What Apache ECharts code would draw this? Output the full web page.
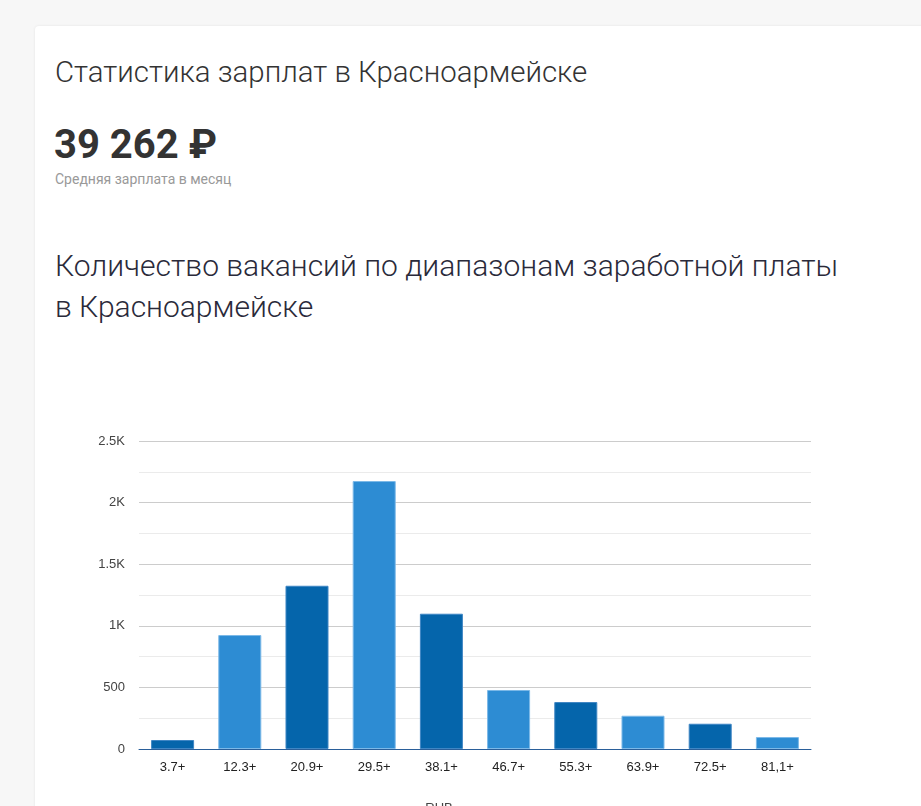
<!DOCTYPE html>
<html>
<head>
<meta charset="utf-8">
<script src="https://cdn.jsdelivr.net/npm/echarts@6/dist/echarts.min.js"></script>
<style>
  html, body { margin: 0; padding: 0; background: #f7f7f7; overflow: hidden; }
  body { width: 921px; height: 806px; position: relative; font-family: Roboto, "Open Sans", sans-serif; }
  .card { position: absolute; left: 35px; top: 26px; width: 900px; height: 800px; background: #fff;
          border-radius: 4px; box-shadow: 0 0 3px rgba(0,0,0,0.08); }
  .h1 { position: absolute; left: 55px; top: 55px; font-size: 29.4px; font-weight: 300; color: #333; white-space: nowrap; }
  .sum { position: absolute; left: 54px; top: 121px; font-size: 40px; font-weight: 700; color: #333; white-space: nowrap; }
  .sub { position: absolute; left: 55px; top: 171px; font-size: 14px; color: #999; white-space: nowrap; }
  .h2 { position: absolute; left: 55px; top: 245px; font-size: 30px; font-weight: 300; color: #2a2a3a; line-height: 41px; }
  #chart { position: absolute; left: 35px; top: 340px; width: 886px; height: 466px; }
</style>
</head>
<body>
<div class="card"></div>
<div class="h1">Статистика зарплат в Красноармейске</div>
<div class="sum">39 262 ₽</div>
<div class="sub">Средняя зарплата в месяц</div>
<div class="h2">Количество вакансий по диапазонам заработной платы<br>в Красноармейске</div>
<div id="chart"></div>
<script>
    // диапазоны зарплат, тыс. руб.
    var categories = ['3.7+', '12.3+', '20.9+', '29.5+', '38.1+', '46.7+', '55.3+', '63.9+', '72.5+', '81,1+'];
    // количество вакансий
    var vacancies = [73, 925, 1325, 2175, 1098, 479, 381, 270, 205, 97];
    var yTicks = [0, 500, 1000, 1500, 2000, 2500];

    var darkBar = { color: '#0565ab', borderColor: '#3f86c4', borderWidth: 1 };
    var lightBar = { color: '#2d8cd3', borderColor: '#7cb9e8', borderWidth: 1 };

    var chart = echarts.init(document.getElementById('chart'));
    chart.setOption({
        animation: false,
        textStyle: { fontFamily: 'Liberation Sans, Arial, sans-serif' },
        grid: { left: 104, right: 110, top: 101, bottom: 57, outerBoundsMode: 'none' },
        xAxis: {
            type: 'category',
            data: categories,
            name: 'RUB',
            nameLocation: 'middle',
            nameGap: 53,
            nameTextStyle: { color: '#444', fontSize: 13, padding: [0, 72, 0, 0] },
            axisLine: { lineStyle: { color: '#2a5f9a', width: 1 } },
            axisTick: { show: false },
            axisLabel: { color: '#222', fontSize: 13, margin: 12 }
        },
        yAxis: {
            type: 'value',
            min: yTicks[0],
            max: yTicks[yTicks.length - 1],
            interval: 500,
            axisLine: { show: false },
            axisTick: { show: false },
            axisLabel: {
                color: '#444', fontSize: 13, margin: 14,
                formatter: function (v) { return v >= 1000 ? (v / 1000) + 'K' : String(v); }
            },
            splitLine: { lineStyle: { color: '#cccccc' } },
            minorTick: { show: false, splitNumber: 2 },
            minorSplitLine: { show: true, lineStyle: { color: '#ebebeb' } }
        },
        series: [{
            type: 'bar',
            barWidth: '64%',
            data: vacancies.map(function (v, i) {
                return { value: v, itemStyle: i % 2 === 0 ? darkBar : lightBar };
            })
        }]
    });
</script>
</body>
</html>
